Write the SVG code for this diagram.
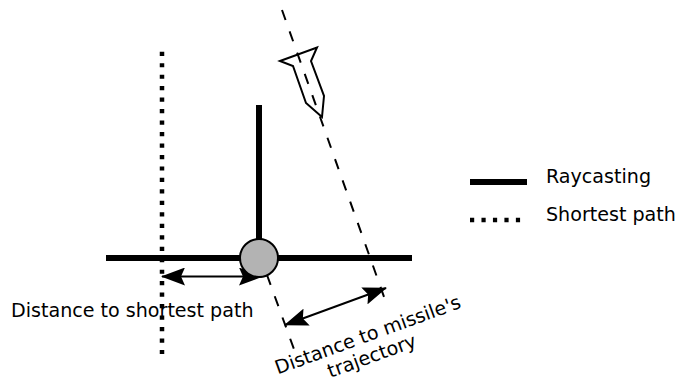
<svg xmlns="http://www.w3.org/2000/svg" width="680" height="385" viewBox="0 0 680 385">
<style>
text{font-family:"DejaVu Sans",sans-serif;font-size:19.1px;fill:#000}
.ray{stroke:#000;stroke-width:6;fill:none}
.sp{stroke:#000;stroke-width:4.5;fill:none;stroke-dasharray:4.200 7.270}
.traj{stroke:#000;stroke-width:2;fill:none;stroke-dasharray:10.6 12}
.dist{stroke:#000;stroke-width:2;fill:none;marker-start:url(#a);marker-end:url(#a)}
</style>
<defs>
<marker id="a" viewBox="0 0 24 18" refX="23" refY="9" markerWidth="24" markerHeight="18" markerUnits="userSpaceOnUse" orient="auto-start-reverse">
<path d="M24 9L0 18L4 9L0 0Z" fill="#000"/>
</marker>
</defs>
<g id="connectors">
<path class="sp" d="M162 51.700V355"/>
<path class="ray" d="M259 105V258"/>
<path class="ray" d="M106 258H412"/>
<path class="traj" d="M282 10L385.500 301"/>
<path class="traj" d="M267 275L295 352"/>
<path class="dist" d="M162 276.500H262"/>
<path class="dist" d="M285 325L386 288"/>
</g>
<g id="missile">
<path d="M280 61L317 47.500L311 61L324 96L322 117L306 103L293 66Z" fill="none" stroke="#000" stroke-width="2"/>
</g>
<g id="agent">
<circle cx="259" cy="258" r="19" fill="#b3b3b3" stroke="#000" stroke-width="2"/>
</g>
<g id="label-shortest"><text x="11" y="317">Distance to shortest path</text></g>
<g id="label-trajectory">
<text transform="translate(370 341) rotate(-20)" text-anchor="middle" x="0" y="0">Distance to missile's</text>
<text transform="translate(374 362) rotate(-20)" text-anchor="middle" x="0" y="0">trajectory</text>
</g>
<g id="legend">
<path class="ray" d="M470 182H527"/>
<path class="sp" d="M470 220H521"/>
<text x="546" y="183">Raycasting</text>
<text x="546" y="221">Shortest path</text>
</g>
</svg>
